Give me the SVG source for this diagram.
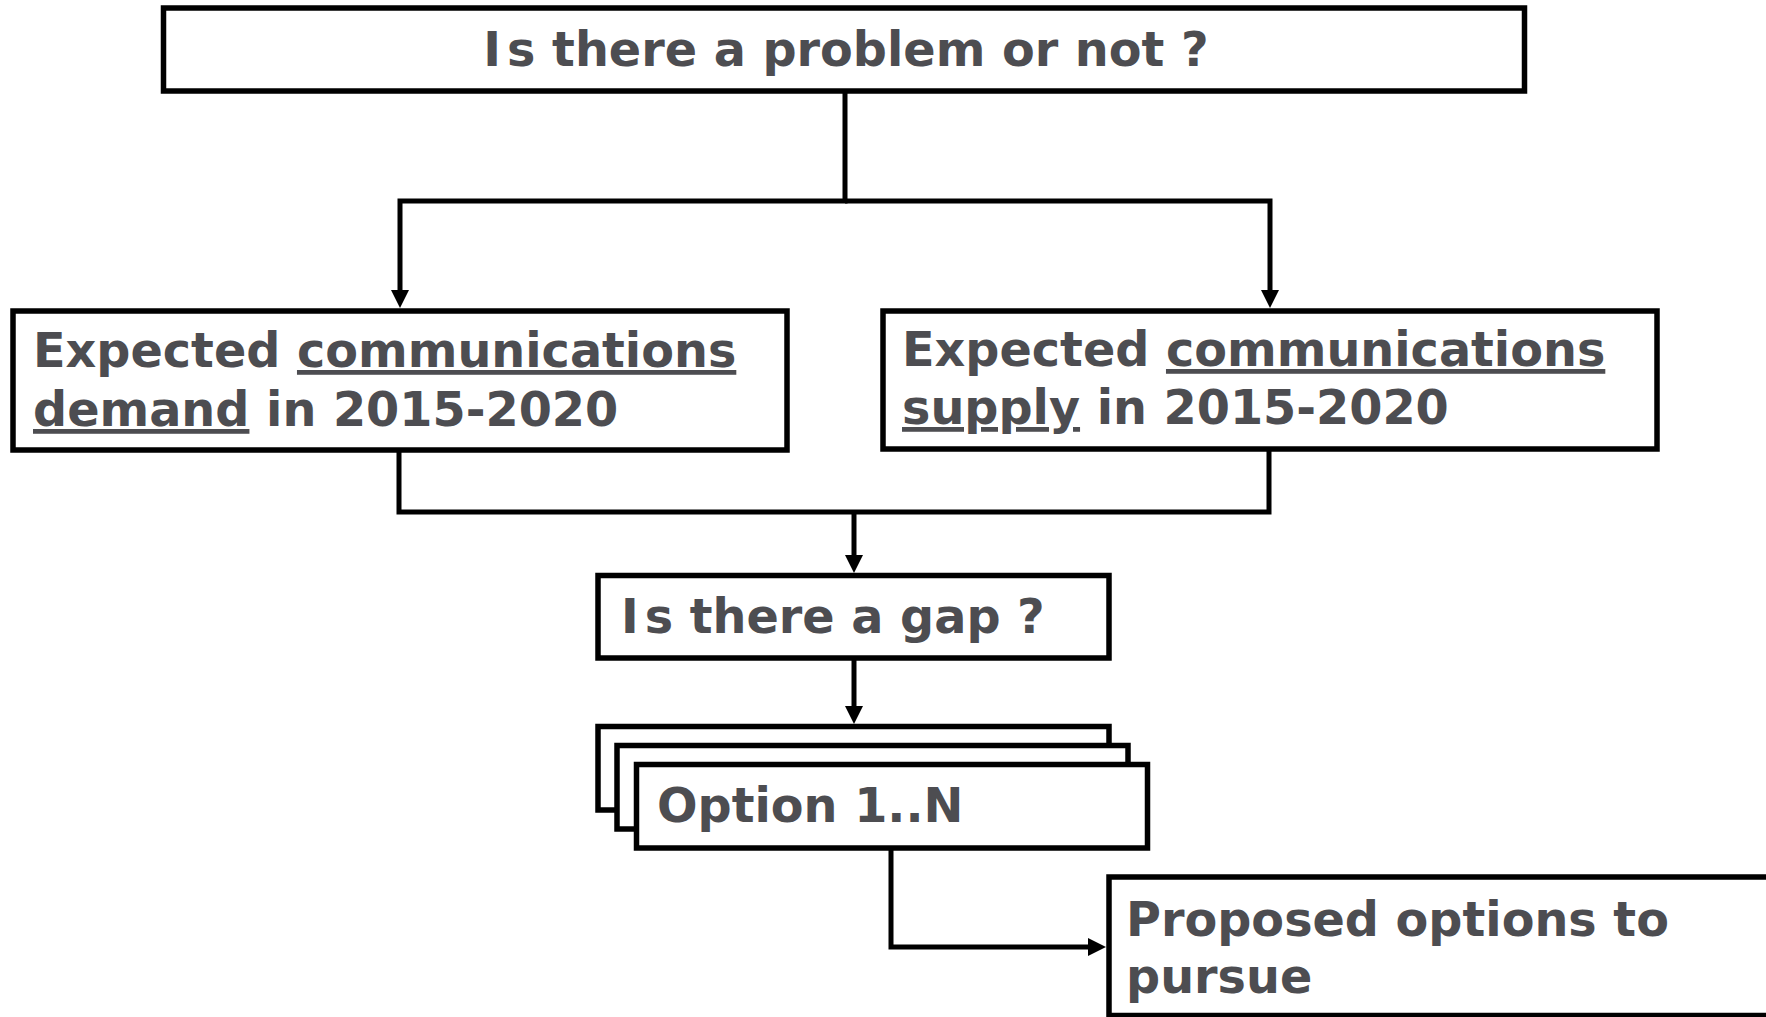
<svg xmlns="http://www.w3.org/2000/svg" width="1766" height="1017" viewBox="0 0 1766 1017">
  <style>
    .box { fill: #ffffff; stroke: #000000; stroke-width: 5.5; }
    .lbl { font-family: "DejaVu Sans", Verdana, sans-serif; font-weight: bold; font-size: 47.7px; fill: #4d4d51; }
    .u { text-decoration: underline; }
    .conn { fill: none; stroke: #000000; stroke-width: 5; }
  </style>
  <defs>
    <marker id="arr" viewBox="0 0 18 18" refX="2" refY="9" markerWidth="18" markerHeight="18" markerUnits="userSpaceOnUse" orient="auto">
      <path d="M0 0 L18 9 L0 18 Z" fill="#000000"/>
    </marker>
  </defs>
  <rect width="1766" height="1017" fill="#ffffff"/>

  <g id="connectors">
    <path class="conn" d="M845 91 V201 H400 V292" marker-end="url(#arr)"/>
    <path class="conn" d="M845 201 H1270 V292" marker-end="url(#arr)"/>
    <path class="conn" d="M399 450 V512 H1269 V449"/>
    <path class="conn" d="M854 512 V557" marker-end="url(#arr)"/>
    <path class="conn" d="M854 658 V708" marker-end="url(#arr)"/>
    <path class="conn" d="M891 848 V947 H1090" marker-end="url(#arr)"/>
  </g>

  <g id="problem">
    <rect class="box" x="163.5" y="8" width="1361" height="83"/>
    <text class="lbl" x="846" y="66" text-anchor="middle">I<tspan dx="6">s there a problem or not ?</tspan></text>
  </g>

  <g id="demand">
    <rect class="box" x="13" y="311" width="774" height="139"/>
    <text class="lbl" x="33" y="367">Expected <tspan class="u">communications</tspan></text>
    <text class="lbl" x="33" y="426"><tspan class="u">demand</tspan> in 2015-2020</text>
  </g>

  <g id="supply">
    <rect class="box" x="883" y="311" width="774" height="138"/>
    <text class="lbl" x="902" y="366">Expected <tspan class="u">communications</tspan></text>
    <text class="lbl" x="902" y="424"><tspan class="u">supply</tspan> in 2015-2020</text>
  </g>

  <g id="gap">
    <rect class="box" x="598" y="575.5" width="511" height="82.5"/>
    <text class="lbl" x="621" y="633">I<tspan dx="6">s there a gap ?</tspan></text>
  </g>

  <g id="options">
    <rect class="box" x="598" y="726.5" width="511" height="83.5"/>
    <rect class="box" x="617" y="745.5" width="511" height="83.5"/>
    <rect class="box" x="636.5" y="764.5" width="511" height="83.5"/>
    <text class="lbl" x="657" y="822">Option 1..N</text>
  </g>

  <g id="proposed">
    <rect class="box" x="1109" y="877" width="700" height="138.5"/>
    <text class="lbl" x="1126" y="936">Proposed options to</text>
    <text class="lbl" x="1126" y="993">pursue</text>
  </g>
</svg>
